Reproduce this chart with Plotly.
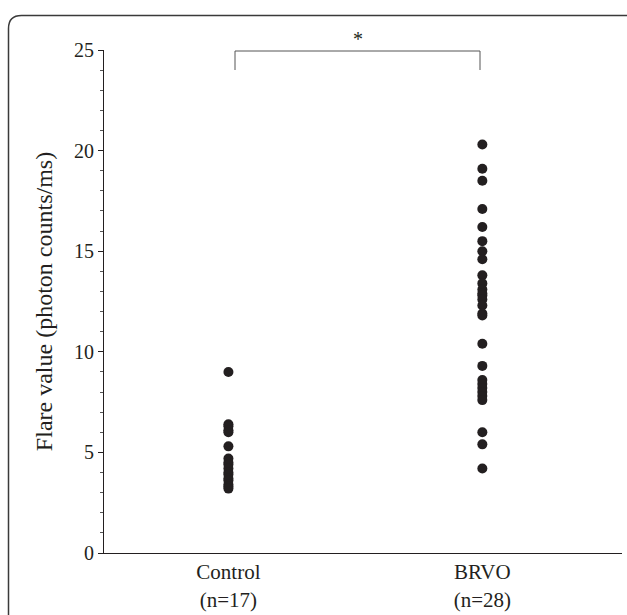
import plotly.graph_objects as go

categories = ["Control<br>(n=17)", "BRVO<br>(n=28)"]
control_values = [9.0, 6.4, 6.3, 6.1, 6.0, 5.3, 4.7, 4.5, 4.4, 4.2, 4.0, 3.9, 3.7, 3.6, 3.4, 3.3, 3.2]
brvo_values = [20.3, 19.1, 18.5, 17.1, 16.2, 15.5, 15.0, 14.6, 13.8, 13.4, 13.1, 12.9,
               12.8, 12.6, 12.3, 11.9, 11.8, 10.4, 9.3, 8.6, 8.4, 8.2, 8.0, 7.8,
               7.6, 6.0, 5.4, 4.2]
y_ticks = [0, 5, 10, 15, 20, 25]

W, H = 627, 615
# plot area in screen pixels
SL, SR, ST, SB = 104, 622, 50, 553
L, T, R, B = SL, ST, W - SR, H - SB
pw, ph = W - L - R, H - T - B

def px(x):
    return (x - SL) / pw

def py(y):
    return (SB - y) / ph

fig = go.Figure()
marker = dict(size=10, color="#231f20", line=dict(width=0))
fig.add_trace(go.Scatter(x=[1] * len(control_values), y=control_values, mode="markers",
                         marker=marker, showlegend=False))
fig.add_trace(go.Scatter(x=[2] * len(brvo_values), y=brvo_values, mode="markers",
                         marker=marker, showlegend=False))

serif = "Liberation Serif, Times New Roman, serif"

# rounded frame (screen pixel coords)
x0, y0, x1, y1, r = 8.5, 15.5, 640, 640, 13
frame = (f"M {px(x0)},{py(y1)} L {px(x0)},{py(y0 + r)} "
         f"Q {px(x0)},{py(y0)} {px(x0 + r)},{py(y0)} "
         f"L {px(x1)},{py(y0)}")
shapes = [
    dict(type="path", xref="paper", yref="paper", path=frame,
         line=dict(color="#3a3a3a", width=1.5)),
    dict(type="path", xref="paper", yref="paper",
         path=(f"M {px(235)},{py(70)} L {px(235)},{py(51)} "
               f"L {px(480)},{py(51)} L {px(480)},{py(70)}"),
         line=dict(color="#555555", width=1)),
]

fig.update_layout(
    width=W, height=H,
    margin=dict(l=L, r=R, t=T, b=B),
    paper_bgcolor="white", plot_bgcolor="white",
    font=dict(family=serif, size=20, color="#231f20"),
    shapes=shapes,
    annotations=[dict(x=px(358), y=py(26), xref="paper", yref="paper", text="*",
                      showarrow=False, font=dict(size=20, family=serif, color="#231f20"))],
    xaxis=dict(range=[0.51, 2.55], tickvals=[1, 2], ticktext=categories,
               showgrid=False, zeroline=False, showline=True, linecolor="#231f20",
               linewidth=1, ticks="", ticklabelstandoff=0, fixedrange=True,
               automargin=False, tickfont=dict(size=21, family=serif)),
    yaxis=dict(range=[0, 25], tickvals=y_ticks, showgrid=False, zeroline=False,
               showline=True, linecolor="#231f20", linewidth=1,
               ticks="outside", ticklen=5, tickcolor="#231f20", automargin=False,
               tickfont=dict(size=20, family=serif),
               minor=dict(dtick=1, ticks="outside", ticklen=3, tickcolor="#555555"),
               title=dict(text="Flare value (photon counts/ms)", standoff=14,
                          font=dict(size=24, family=serif))),
)

fig.write_html("out.html", config={"displayModeBar": False},
               post_script="document.body.style.margin='0';")
